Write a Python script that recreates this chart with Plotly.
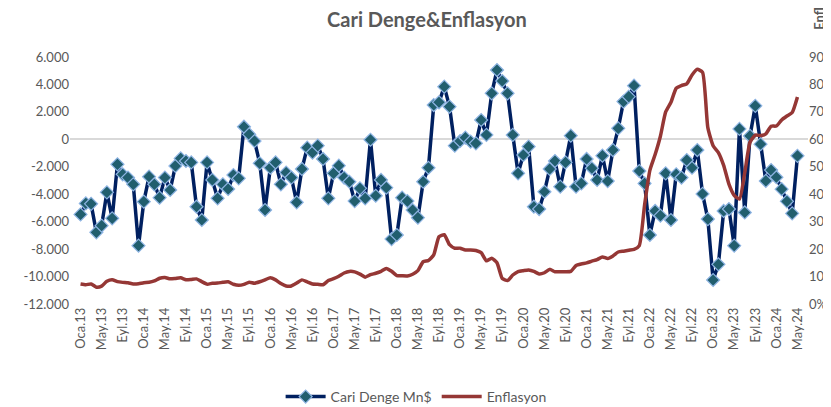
import plotly.graph_objects as go

month_names = ["Oca", "Şub", "Mar", "Nis", "May", "Haz", "Tem", "Ağu", "Eyl", "Eki", "Kas", "Ara"]
categories = [f"{m}.{y:02d}" for y in range(13, 25) for m in month_names][:137]

tick_labels = [c for i, c in enumerate(categories) if i % 4 == 0]

cari_denge = [
    -5470, -4670, -4700, -6780, -6290, -3860, -5760, -1820, -2550, -2790, -3280, -7750,
    -4540, -2720, -3280, -4250, -2790, -3690, -1940, -1390, -1580, -1680, -4910, -5880,
    -1680, -2960, -4300, -3280, -3620, -2600, -2840, 920, 360, -120, -1750, -5150,
    -2070, -1680, -3280, -2420, -2790, -4590, -2160, -610, -970, -460, -1430, -4300,
    -2480, -1920, -2790, -3090, -4500, -3570, -4300, -30, -4110, -2960, -3520, -7270,
    -6970, -4250, -4500, -5150, -5710, -3090, -2070, 2500, 2700, 3840, 2380, -460,
    -120, 120, -170, -290, 1410, 320, 3350, 5050, 4250, 3350, 320, -2480,
    -1140, -530, -4910, -5080, -3820, -2160, -1580, -3450, -1680, 270, -3450, -3210,
    -1430, -2110, -2960, -1190, -3040, -780, 800, 2750, 3110, 3910, -2310, -3210,
    -6970, -5220, -5560, -2480, -5880, -2550, -2790, -1510, -2070, -780, -3980, -5810,
    -10250, -9110, -5220, -5080, -7750, 760, -5330, 250, 2440, -350, -3030, -2240,
    -2760, -3630, -4520, -5400, -1200,
]

enflasyon = [
    7.31, 7.03, 7.29, 6.13, 6.51, 8.30, 8.88, 8.17, 7.88, 7.71, 7.32, 7.40,
    7.75, 7.89, 8.39, 9.38, 9.66, 9.16, 9.32, 9.54, 8.86, 8.96, 9.15, 8.17,
    7.24, 7.55, 7.61, 7.91, 8.09, 7.20, 6.81, 7.14, 7.95, 7.58, 8.10, 8.81,
    9.58, 8.78, 7.46, 6.57, 6.58, 7.64, 8.79, 8.05, 7.28, 7.16, 7.00, 8.53,
    9.22, 10.13, 11.29, 11.87, 11.72, 10.90, 9.79, 10.68, 11.20, 11.90, 12.98, 11.92,
    10.35, 10.26, 10.23, 10.85, 12.15, 15.39, 15.85, 17.90, 24.52, 25.24, 21.62, 20.30,
    20.35, 19.67, 19.71, 19.50, 18.71, 15.72, 16.65, 15.01, 9.26, 8.55, 10.56, 11.84,
    12.15, 12.37, 11.86, 10.94, 11.39, 12.62, 11.76, 11.77, 11.75, 11.89, 14.03, 14.60,
    14.97, 15.61, 16.19, 17.14, 16.59, 17.53, 18.95, 19.25, 19.58, 19.89, 21.31, 36.08,
    48.69, 54.44, 61.14, 69.97, 73.50, 78.62, 79.60, 80.21, 83.45, 85.51, 84.39, 64.27,
    57.68, 55.18, 50.51, 43.68, 39.59, 38.21, 47.83, 58.94, 61.53, 61.36, 61.98, 64.77,
    64.86, 67.07, 68.50, 69.80, 75.45,
]

left_ticks = list(range(-12000, 6001, 2000))
left_tick_text = [f"{v:,}".replace(",", ".") for v in left_ticks]
right_ticks = list(range(0, 91, 10))
right_tick_text = [f"{v}%" for v in right_ticks]

FONT = "Lato, 'Open Sans', sans-serif"
GREY = "#595959"

fig = go.Figure()
fig.add_trace(go.Scatter(
    x=categories, y=cari_denge, name="Cari Denge Mn$", mode="lines+markers",
    line=dict(color="#002060", width=3.5),
    marker=dict(symbol="diamond", size=10, color="#215E6E",
                line=dict(color="#8EB4E3", width=1.2)),
    yaxis="y",
))
fig.add_trace(go.Scatter(
    x=categories, y=enflasyon, name="Enflasyon", mode="lines",
    line=dict(color="#953735", width=3.5, shape="spline", smoothing=0.5),
    yaxis="y2",
))

fig.update_layout(
    width=823, height=399,
    margin=dict(l=62, r=23, t=49, b=103, autoexpand=False),
    paper_bgcolor="white", plot_bgcolor="white",
    font=dict(family=FONT, color=GREY, size=13),
    title=dict(text="<b>Cari Denge&Enflasyon</b>", x=0.509, xanchor="center",
               y=0.97, yanchor="middle", font=dict(size=20, color=GREY, family=FONT)),
    xaxis=dict(type="category", range=[-2, 138], tickmode="array",
               tickvals=tick_labels, ticktext=tick_labels, tickangle=-90,
               showgrid=False, showline=False, zeroline=False, ticks="",
               automargin=False, tickfont=dict(size=13, color=GREY)),
    yaxis=dict(range=[-12000, 6000], tickvals=left_ticks, ticktext=left_tick_text,
               showgrid=False, zeroline=True, zerolinecolor="#D9D9D9", zerolinewidth=1.5,
               showline=False, ticks="", automargin=False,
               tickfont=dict(size=13, color=GREY)),
    yaxis2=dict(range=[0, 90], tickvals=right_ticks, ticktext=right_tick_text,
                overlaying="y", side="right", showgrid=False, zeroline=False,
                showline=False, ticks="", automargin=False,
                tickfont=dict(size=13, color=GREY)),
    legend=dict(orientation="h", x=0.469, xanchor="center", y=-0.3765, yanchor="middle",
                font=dict(size=14, color=GREY), itemwidth=40, bgcolor="rgba(0,0,0,0)"),
    showlegend=True,
    annotations=[dict(text="<b>Enflasyon</b>", textangle=-90, xref="paper", yref="paper",
                      x=1.0145, y=1.1008, xanchor="center", yanchor="bottom", showarrow=False,
                      font=dict(size=13, color=GREY, family=FONT))],
)

fig.write_html("out.html")
